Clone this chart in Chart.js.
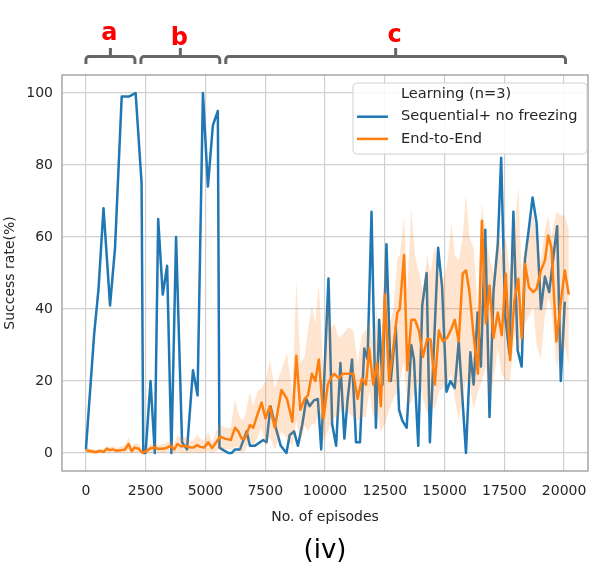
<!DOCTYPE html>
<html>
<head>
<meta charset="utf-8">
<script src="https://cdn.jsdelivr.net/npm/chart.js@4.4.1/dist/chart.umd.min.js"></script>
<style>
  html, body { margin: 0; padding: 0; background: #fff; }
  #wrap { width: 606px; height: 569px; }
</style>
</head>
<body>
<div id="wrap"><canvas id="successChart" width="606" height="569"></canvas></div>
<script>
// Sequential+ no freezing (single run)
const seqEpisodes = [0,345,528,736,1010,1218,1497,1800,2079,2328,2399,2495,2703,2881,3023,3214,3397,3576,3771,4021,
  4229,4478,4669,4894,5102,5310,5518,5584,5750,5958,6100,6237,6445,6723,6861,7069,7414,7555,7722,7900,
  8150,8387,8524,8703,8869,9052,9218,9356,9534,9701,9842,10146,10299,10466,10644,10811,10948,11131,11297,11463,
  11642,11780,11946,12129,12266,12404,12570,12753,12961,13098,13235,13418,13609,13721,13900,14067,14250,14387,14553,14732,
  14898,15081,15247,15426,15593,15896,16079,16216,16382,16520,16703,16881,17048,17227,17368,17535,17713,17879,18058,18225,
  18366,18503,18682,18849,19031,19198,19377,19543,19709,19863,20029]
const seqSuccess = [1,33,45.6,68,41,57,99,99,100,75,0,0,20,0,65,44,52,0,60,3,
  1,23,16,100,74,91,95,1.5,0.8,0,0,1,1,6,2,2,3.6,3,13,8,
  2,0,5,6,2,8,15,13,14.6,15,1,48.5,8,2,25,4,15,26,3,3,
  29,26,67,7,37,19,58,20,35,12,9,7,30,26,2,41,50,3,29,57,
  46,17,20,18,31,0,28,19,39,24,62,10,45,58,82,38,27.6,67,28.5,24,
  54,61,71,64,40,49,44.7,54,63,20,42]

// End-to-End (mean of n=3 with its band)
const e2eEpisodes = [0,208,416,582,748,873,998,1123,1289,1455,1622,1788,1913,2037,2204,2370,2536,2703,2869,3035,
  3201,3368,3534,3700,3825,3992,4158,4324,4491,4657,4782,4948,5114,5281,5447,5613,5821,6058,6237,6374,
  6516,6653,6861,6998,7164,7347,7514,7692,7900,8179,8412,8636,8802,8969,9148,9285,9451,9593,9742,9938,
  10116,10258,10395,10574,10740,10990,11185,11364,11547,11713,11850,12017,12171,12337,12503,12682,12861,13027,13127,13306,
  13443,13609,13763,13929,14096,14275,14416,14595,14761,14927,15106,15289,15426,15593,15759,15896,16037,16216,16395,16561,
  16728,16881,17048,17227,17393,17560,17742,17921,18087,18225,18366,18533,18711,18849,19031,19198,19335,19472,19680,19863,
  20029,20196]
const e2eMean = [0.8,0.5,0.2,0.6,0.3, 1.2,0.8,1.0,0.6,0.8, 0.9,2.5,0.5,1.5,1.2, 0,0.6,1.3,1.5,1.2,
  1.2,1.4,2,1,2.5, 1.8,2,1.6,1.5,2.2, 1.7,1.5,3,1.4,3, 4.5,4,3.6,7,6,
  4,4,7.8,7,10.5, 14,9.6,13,7,17.5, 15,8.7,27,12,15, 16,22,20,26,9.6,
  19,21,22,20.7,22, 22,22,15,20.7,19, 29,19,25,13,44, 20,29.5,39,40,55,
  23,37,37,34,26.7, 31.8,31.5,19,34,31, 32,34.5,37,31,49.8, 50.7,45,32.7,22,64.5,
  36,46.5,32,39,32.7, 49.8,25.8,42.4,48.4,32, 52.5,46,44.7,45.6,50.7, 53.5,60.4,57,31,42,
  50.7,44]
const e2eLow = [0,0,0,0,0, 0.3,0,0.2,0,0, 0,0.5,0,0.3,0, 0,0,0,0.3,0.2,
  0,0.2,0.5,0,0.5, 0,0,0,0,0, 0,0,0.5,0,0.5, 1,1,1,1.7,1.5,
  0,0.5,3.6,2,4, 7,2,4.5,1,5.9, 4,2,9,3,7.5, 6,8,8,12,3,
  6,8,10,10,13, 11,10,9,10,10, 17,10,12,6,8, 12,15,17,20,25,
  14,14,18,20,15, 11,14,12,17,18, 20,22,15,9,15, 20,20,12,17,20,
  24,15.5,20,29,22, 20,20,33,28,30, 36,38,40.8,30,26, 38,43,40,24,28,
  30,24]
const e2eHigh = [1.5,1.2,1,1.2,1, 2,1.6,2,1.4,1.8, 2,4.5,1.5,2.8,2.5, 0.8,1.5,2.5,2.8,2.2,
  2.5,2.8,3.5,2.5,5, 4,4.5,3.5,3.5,5, 4,3.5,6,3,6, 8,7,7,15,11,
  9,10,17,13,17, 18,20,26,18,23, 28,16,48,25,26.7, 34,41,36,47,22,
  43,35,36,32,33, 35,34,25,33,34, 37,30,40,24,57, 35,40,54,55,65.5,
  45,68,55,50,45, 55,50,57.6,50,48, 52,63.7,55,53.5,60, 72,60,57,40,69.6,
  60,54,50,61.8,55, 60,50,62,74,50, 57,60,67,60,53.5, 62,66,60,67,66,
  66,62]

const xTickValues = [0,2500,5000,7500,10000,12500,15000,17500,20000]
const yTickValues = [0,20,40,60,80,100]

// training phases marked above the plot (in episodes)
const phases = [
  {label: 'a', from: 0, to: 2050, textY: 40},
  {label: 'b', from: 2300, to: 5600, textY: 45},
  {label: 'c', from: 5850, to: 20060, textY: 42},
]

const BLUE = '#1f77b4'
const ORANGE = '#ff7f0e'
const FONT = '"DejaVu Sans", sans-serif'

const pts = (xs, ys) => xs.map((x, i) => ({x: x, y: ys[i]}))

function drawBrace(ctx, x0, x1, y) {
  const r = 3, drop = 7.5, rise = 8.5
  const xm = (x0 + x1) / 2
  ctx.beginPath()
  ctx.moveTo(x0, y + drop)
  ctx.arcTo(x0, y, x0 + r, y, r)
  ctx.lineTo(x1 - r, y)
  ctx.arcTo(x1, y, x1, y + drop, r)
  ctx.lineTo(x1, y + drop)
  ctx.moveTo(xm, y)
  ctx.lineTo(xm, y - rise)
  ctx.stroke()
}

const decorations = {
  id: 'decorations',
  afterDraw(chart) {
    const {ctx, chartArea: a, scales: {x}} = chart
    ctx.save()
    // axes frame
    ctx.strokeStyle = '#999'
    ctx.lineWidth = 1.3
    ctx.strokeRect(a.left, a.top, a.right - a.left, a.bottom - a.top)

    // legend (seaborn style, hue title as first entry)
    const bx = 353, by = a.top + 8, bw = a.right - 1 - bx, bh = 71
    ctx.beginPath()
    ctx.roundRect(bx, by, bw, bh, 4)
    ctx.fillStyle = 'rgba(255,255,255,0.85)'
    ctx.fill()
    ctx.strokeStyle = '#d0d0d0'
    ctx.lineWidth = 1
    ctx.stroke()
    const entries = [
      {text: 'Learning (n=3)', color: null},
      {text: chart.data.datasets[3].label, color: BLUE},
      {text: chart.data.datasets[0].label, color: ORANGE},
    ]
    ctx.font = '14.6px ' + FONT
    ctx.textBaseline = 'middle'
    ctx.textAlign = 'left'
    entries.forEach((e, i) => {
      const ly = by + 11.5 + i * 22.2
      if (e.color) {
        ctx.strokeStyle = e.color
        ctx.lineWidth = 2.5
        ctx.beginPath()
        ctx.moveTo(bx + 4, ly)
        ctx.lineTo(bx + 35, ly)
        ctx.stroke()
      }
      ctx.fillStyle = '#262626'
      ctx.fillText(e.text, bx + 48, ly)
    })

    // phase braces a / b / c
    ctx.strokeStyle = '#666'
    ctx.lineWidth = 3
    ctx.fillStyle = '#ff0000'
    ctx.font = 'bold 24px ' + FONT
    ctx.textAlign = 'center'
    ctx.textBaseline = 'alphabetic'
    phases.forEach(p => {
      const x0 = x.getPixelForValue(p.from)
      const x1 = x.getPixelForValue(p.to)
      drawBrace(ctx, x0, x1, 56.6)
      ctx.fillText(p.label, (x0 + x1) / 2 - 1, p.textY)
    })

    // panel tag
    ctx.fillStyle = '#000'
    ctx.font = '26px ' + FONT
    ctx.fillText('(iv)', (a.left + a.right) / 2, 558)
    ctx.restore()
  }
}

new Chart(document.getElementById('successChart'), {
  type: 'line',
  data: {
    datasets: [
      {label: 'End-to-End', data: pts(e2eEpisodes, e2eMean), borderColor: ORANGE, borderWidth: 2.5, pointRadius: 0, fill: false},
      {label: 'band-high', data: pts(e2eEpisodes, e2eHigh), borderWidth: 0, pointRadius: 0, fill: '+1', backgroundColor: 'rgba(255,127,14,0.2)'},
      {label: 'band-low', data: pts(e2eEpisodes, e2eLow), borderWidth: 0, pointRadius: 0, fill: false},
      {label: 'Sequential+ no freezing', data: pts(seqEpisodes, seqSuccess), borderColor: BLUE, borderWidth: 2.5, pointRadius: 0, fill: false},
    ],
  },
  options: {
    responsive: false,
    animation: false,
    borderJoinStyle: 'round',
    layout: {padding: {top: 75, right: 18, left: 0, bottom: 0}},
    plugins: {legend: {display: false}, tooltip: {enabled: false}},
    scales: {
      x: {
        type: 'linear', min: -1000, max: 21000,
        afterBuildTicks: s => { s.ticks = xTickValues.map(v => ({value: v})) },
        afterFit: s => { s.height = 98 },
        border: {display: false},
        grid: {color: '#d0d0d0', lineWidth: 1.2, drawTicks: false},
        ticks: {padding: 12, maxRotation: 0, autoSkip: false, color: '#262626', font: {family: FONT, size: 14},
          callback: v => String(v)},
        title: {display: true, text: 'No. of episodes', color: '#262626', font: {family: FONT, size: 14}, padding: {top: 0, bottom: 43}},
      },
      y: {
        min: -5, max: 105,
        afterBuildTicks: s => { s.ticks = yTickValues.map(v => ({value: v})) },
        afterFit: s => { s.width = 62 },
        border: {display: false},
        grid: {color: '#d0d0d0', lineWidth: 1.2, drawTicks: false},
        ticks: {padding: 9, color: '#262626', font: {family: FONT, size: 14}},
        title: {display: true, text: 'Success rate(%)', color: '#262626', font: {family: FONT, size: 14}, padding: {top: 2, bottom: 0}},
      },
    },
  },
  plugins: [decorations],
})
</script>
</body>
</html>
